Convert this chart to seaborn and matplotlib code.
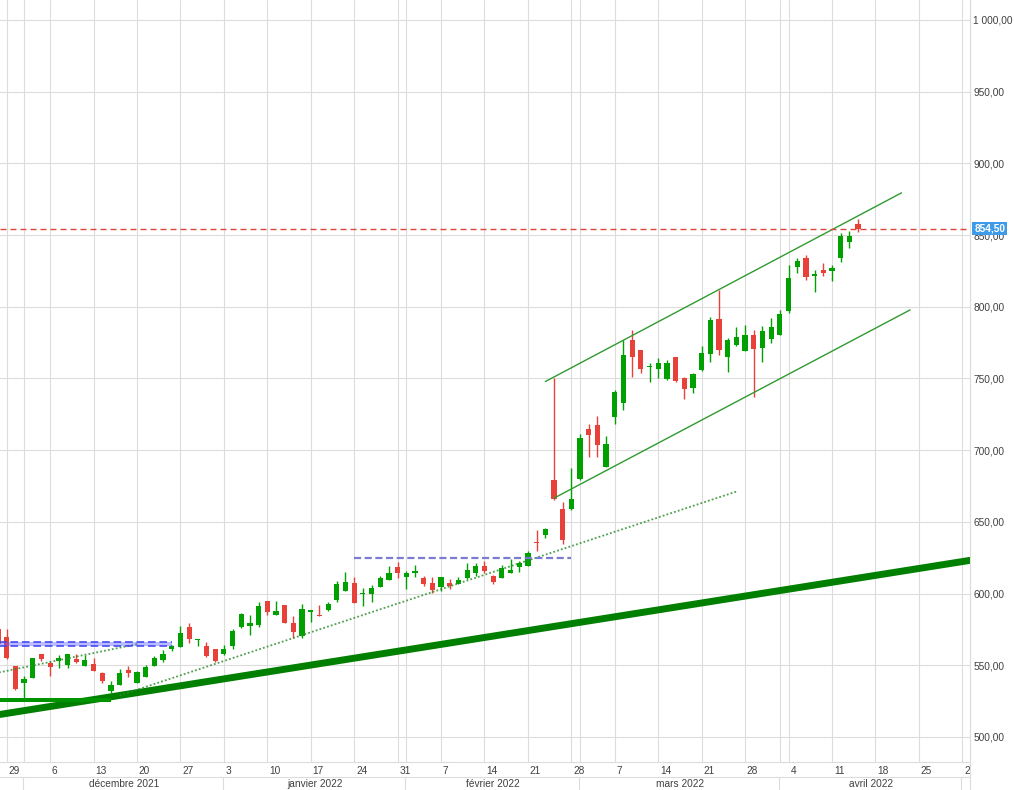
import numpy as np
import pandas as pd
import matplotlib
matplotlib.use("Agg")
import matplotlib.pyplot as plt
import matplotlib.transforms as mtransforms
from matplotlib.lines import Line2D
from matplotlib.ticker import FuncFormatter
import seaborn as sns

sns.set_theme(style="white")
plt.rcParams['font.family'] = ['Liberation Sans', 'DejaVu Sans']

# daily candles, business days 26/11/2021 -> 14/04/2022
dates = pd.bdate_range("2021-11-26", "2022-04-14")
opens = [575.5, 569.8, 549.4, 537.8, 541.3, 557.8, 551.7, 552.9, 550.1, 554.3,
         549.7, 550.8, 544.8, 532.2, 536.2, 546.7, 537.8, 542.0, 549.7, 553.6,
         561.1, 562.9, 576.4, 567.3, 563.4, 561.3, 557.6, 563.4, 576.8, 577.5,
         578.0, 594.7, 585.0, 591.9, 579.6, 570.5, 586.8, 585.0, 588.4, 595.4,
         601.9, 607.2, 599.4, 599.6, 604.7, 609.3, 618.4, 611.6, 614.4, 610.9,
         607.4, 604.2, 607.4, 606.5, 610.5, 614.4, 619.1, 612.1, 610.9, 614.4,
         618.6, 619.3, 635.5, 640.7, 679.0, 658.8, 658.8, 679.7, 714.5, 717.8,
         688.2, 723.0, 732.8, 776.5, 769.5, 757.7, 756.3, 749.3, 764.8, 750.5,
         743.2, 755.6, 766.7, 791.1, 764.8, 773.0, 769.0, 780.6, 771.1, 777.2,
         780.4, 796.9, 827.5, 834.0, 821.7, 825.9, 824.7, 833.8, 844.9, 858.0]
highs = [576.0, 575.0, 549.4, 542.5, 555.0, 558.0, 553.1, 556.9, 558.0, 557.8,
         556.9, 554.8, 545.0, 539.0, 547.1, 549.4, 546.0, 550.1, 556.4, 560.6,
         564.0, 577.3, 579.6, 568.2, 566.4, 561.5, 564.0, 575.0, 586.6, 585.0,
         594.0, 595.0, 594.7, 592.2, 584.3, 592.6, 588.6, 591.9, 594.2, 608.6,
         614.9, 611.4, 603.5, 605.8, 612.1, 619.0, 621.7, 615.6, 619.8, 612.1,
         611.6, 611.8, 609.8, 611.2, 621.4, 621.0, 622.6, 612.8, 619.8, 624.4,
         622.6, 629.8, 644.2, 646.0, 750.5, 663.9, 687.5, 711.5, 718.5, 723.5,
         709.6, 741.6, 776.5, 784.1, 769.7, 760.7, 764.2, 762.5, 765.0, 751.0,
         753.7, 772.3, 792.7, 811.8, 778.1, 785.7, 787.6, 784.1, 786.9, 792.0,
         797.8, 829.4, 834.0, 836.3, 825.7, 830.6, 829.2, 851.2, 853.1, 861.2]
lows = [563.0, 554.0, 532.7, 527.0, 541.0, 553.1, 542.7, 548.3, 548.3, 551.3,
        549.5, 546.0, 537.8, 530.0, 536.0, 542.0, 537.5, 541.8, 549.5, 552.4,
        559.9, 562.7, 565.3, 563.4, 555.5, 552.4, 557.4, 561.3, 575.7, 571.0,
        576.8, 585.0, 584.8, 579.4, 568.7, 568.7, 580.3, 584.0, 587.7, 594.2,
        601.7, 593.3, 591.4, 594.2, 604.5, 609.1, 610.9, 603.1, 611.6, 605.4,
        600.1, 601.9, 602.9, 606.3, 610.3, 612.1, 614.0, 606.5, 610.7, 614.2,
        615.1, 619.1, 629.8, 638.8, 665.5, 634.4, 658.5, 679.0, 695.2, 695.2,
        688.0, 718.5, 728.2, 750.9, 753.7, 747.4, 750.2, 749.1, 747.2, 735.4,
        739.8, 755.4, 761.4, 766.0, 754.4, 772.5, 768.8, 736.9, 761.4, 774.6,
        780.2, 795.7, 823.3, 818.9, 810.6, 821.7, 817.6, 831.0, 840.7, 852.4]
closes = [565.0, 554.8, 533.4, 540.4, 554.8, 554.3, 549.0, 555.2, 557.8, 552.0,
          553.6, 546.2, 539.2, 536.2, 544.8, 544.8, 545.5, 548.5, 554.8, 557.8,
          563.4, 572.6, 568.2, 567.7, 556.4, 552.9, 561.3, 573.8, 585.7, 579.2,
          591.2, 587.3, 587.7, 579.6, 573.3, 588.9, 588.4, 584.3, 592.4, 606.5,
          607.7, 593.5, 599.8, 603.5, 610.5, 614.0, 614.4, 614.4, 615.6, 606.5,
          602.4, 611.6, 605.4, 609.3, 616.3, 619.1, 615.6, 608.2, 617.5, 616.3,
          621.0, 628.3, 634.9, 644.8, 666.2, 637.2, 666.1, 708.4, 710.3, 703.3,
          704.5, 740.5, 766.0, 764.8, 756.3, 758.1, 760.9, 760.9, 747.9, 742.3,
          752.8, 767.6, 790.4, 769.5, 776.9, 779.2, 780.6, 770.2, 783.4, 786.2,
          795.0, 820.1, 832.2, 820.5, 822.9, 823.3, 827.0, 849.6, 849.6, 854.5]
last_price = 854.50

# drawn objects: (date, price) anchors
trend_thick = [("2021-11-29", 516.4), ("2022-04-29", 621.3)]
support_flat = [("2021-11-24", 526.0), ("2021-12-15", 526.0)]
dotted_short = [("2021-11-26", 544.8), ("2021-12-20", 564.7)]
dotted_long = [("2021-12-16", 528.9), ("2022-03-25", 671.1)]
band_dates = ["2021-11-24", "2021-12-24"]
band_prices = [563.4, 566.0]
resist_dates = ["2022-01-24", "2022-02-28"]
resist_price = 625.0
channel_up = [("2022-02-23", 747.8), ("2022-04-21", 879.4)]
channel_low = [("2022-02-24", 666.5), ("2022-04-22", 797.8)]

month_starts = ["2021-12-01", "2022-01-03", "2022-02-01", "2022-03-01", "2022-04-01", "2022-05-02"]
month_names = ["décembre 2021", "janvier 2022", "février 2022", "mars 2022", "avril 2022"]
mondays = pd.date_range("2021-11-29", "2022-05-02", freq="W-MON")

ORIGIN = "2021-11-29"


def bx(d):
    return int(np.busday_count(ORIGIN, np.datetime64(pd.Timestamp(d).date(), "D")))


GREEN = "#00a000"
RED = "#e8413a"
GRID = "#dcdcdc"
TXT = "#404040"

W, H = 1014, 790
fig = plt.figure(figsize=(W / 100, H / 100), dpi=100)
ax = fig.add_axes([0, 28 / H, 970 / W, 762 / H])
axm = fig.add_axes([0, 0, 970 / W, 13 / H])

x = np.array([bx(d) for d in dates])
o, h, l, c = (np.array(a) for a in (opens, highs, lows, closes))
cols = np.where(c >= o, GREEN, RED)

ax.vlines(x, l, h, colors=cols, lw=1.0, zorder=4)
ax.bar(x, np.maximum(np.abs(c - o), 0.7), bottom=np.minimum(o, c), width=0.6,
       color=cols, lw=0, zorder=5)

# thick rising trend line
ax.axline((bx(trend_thick[0][0]), trend_thick[0][1]), (bx(trend_thick[1][0]), trend_thick[1][1]),
          color="#007f00", lw=5, zorder=3)
ax.plot([bx(d) for d, _ in support_flat], [p for _, p in support_flat],
        color="#009400", lw=2.9, solid_capstyle="butt", zorder=3)

for seg in (dotted_short, dotted_long):
    sns.lineplot(x=[bx(d) for d, _ in seg], y=[p for _, p in seg], ax=ax,
                 color="#2f8f2f", lw=1.3, linestyle=(0, (1, 1.2)), alpha=0.85, zorder=6)

# blue band
bxs = [bx(d) for d in band_dates]
ax.fill_between(bxs, band_prices[0], band_prices[1], color="#5a62ff", alpha=0.42, lw=0, zorder=6)
for p in band_prices:
    ax.plot(bxs, [p, p], color="#3c3cf0", lw=1.1, linestyle=(0, (5, 2.5)), zorder=6)

ax.plot([bx(d) for d in resist_dates], [resist_price] * 2, color="#7b7bd0", lw=1.6,
        linestyle=(0, (3.2, 1.6)), zorder=6)

for seg in (channel_up, channel_low):
    sns.lineplot(x=[bx(d) for d, _ in seg], y=[p for _, p in seg], ax=ax,
                 color="#2f9a2f", lw=1.0, zorder=6)

ax.axhline(last_price, color="#e0453a", lw=1.0, linestyle=(0, (4.3, 2.9)), zorder=7)

# axes cosmetics
x0, x1 = -0.771, 110.89
ax.set_xlim(x0, x1)
ax.set_ylim(482.5, 1013.9)
ax.set_xlabel("")
ax.set_ylabel("")
ax.set_yticks(np.arange(500, 1001, 50))
ax.yaxis.tick_right()
ax.yaxis.set_major_formatter(FuncFormatter(
    lambda v, _: f"{v:,.2f}".replace(",", " ").replace(".", ",")))
ax.tick_params(axis="y", length=0, pad=2.4, labelsize=7.3, labelcolor=TXT)

mon_idx = [bx(d) for d in mondays]
ax.set_xticks(mon_idx)
ax.set_xticks([bx(d) for d in month_starts], minor=True)
ax.tick_params(axis="x", which="major", length=10.8, width=0.8, color=GRID,
               direction="out", labelbottom=False)
ax.tick_params(axis="x", which="minor", length=0, labelbottom=False)
ax.grid(True, which="both", color=GRID, lw=0.8)
ax.set_axisbelow(True)
for side in ("top", "left"):
    ax.spines[side].set_visible(False)
for side in ("bottom", "right"):
    ax.spines[side].set_color(GRID)
    ax.spines[side].set_linewidth(0.8)

for d, i in zip(mondays, mon_idx):
    ax.annotate(str(d.day), xy=(i, 0), xycoords=("data", "axes fraction"),
                xytext=(1.3, -6.6), textcoords="offset points", ha="left", va="center",
                fontsize=7.3, color=TXT, annotation_clip=False)

# price tag
ax.annotate(f"{last_price:.2f}".replace(".", ","), xy=(1, last_price),
            xycoords=("axes fraction", "data"), xytext=(3.0, 0), textcoords="offset points",
            ha="left", va="center", fontsize=7.3, color="white", fontweight="bold",
            bbox=dict(boxstyle="square,pad=0.18", fc="#3d9be9", ec="none"),
            zorder=10, annotation_clip=False)

# month row
axm.set_xlim(x0, x1)
axm.set_ylim(0, 1)
axm.set_xticks([])
axm.set_yticks([])
for side in ("bottom", "left", "right"):
    axm.spines[side].set_visible(False)
axm.spines["top"].set_color(GRID)
axm.spines["top"].set_linewidth(0.8)
ms = [bx(d) for d in month_starts]
for m in ms:
    axm.axvline(m - 0.1, color=GRID, lw=0.8)
for name, a, b in zip(month_names, ms[:-1], ms[1:]):
    axm.text((a + b) / 2, 0.45, name, ha="center", va="center", fontsize=7.3, color=TXT)

fig.add_artist(Line2D([970 / W, 970 / W], [0, 1], transform=fig.transFigure, color=GRID, lw=0.8))

fig.savefig("out.png", dpi=100)
